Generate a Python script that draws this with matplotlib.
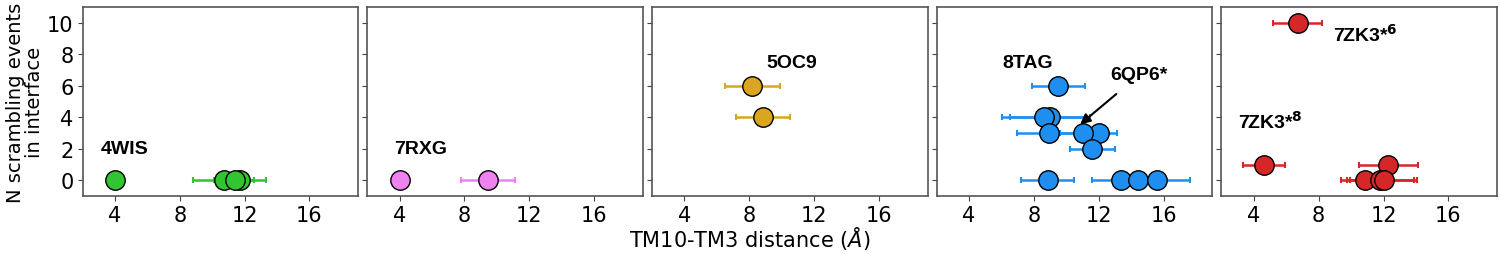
import numpy as np
import matplotlib
matplotlib.use("Agg")
import matplotlib.pyplot as plt

# TM10-TM3 distance (x), scrambling events (y), x error, one set per structure
x_4wis = [4.0, 10.7, 11.7, 11.4]
y_4wis = [0, 0, 0, 0]
e_4wis = [0.0, 1.9, 1.6, 1.2]

x_7rxg = [4.0, 9.45]
y_7rxg = [0, 0]
e_7rxg = [0.0, 1.65]

x_5oc9 = [8.2, 8.85]
y_5oc9 = [6, 4]
e_5oc9 = [1.7, 1.65]

x_8tag = [9.5, 9.0, 8.6, 8.9, 12.0, 11.0, 11.6, 8.85, 13.4, 14.4, 15.6]
y_8tag = [6, 4, 4, 3, 3, 3, 2, 0, 0, 0, 0]
e_8tag = [1.65, 2.45, 2.6, 1.95, 1.1, 1.4, 1.4, 1.65, 1.8, 1.5, 2.05]

x_7zk3 = [6.7, 4.65, 12.3, 10.85, 11.8, 12.0]
y_7zk3 = [10, 1, 1, 0, 0, 0]
e_7zk3 = [1.5, 1.3, 1.8, 1.5, 2.05, 2.05]

panels = [
    (x_4wis, y_4wis, e_4wis, "#33c433"),
    (x_7rxg, y_7rxg, e_7rxg, "#ee82ee"),
    (x_5oc9, y_5oc9, e_5oc9, "#daa520"),
    (x_8tag, y_8tag, e_8tag, "#1e8ff0"),
    (x_7zk3, y_7zk3, e_7zk3, "#d62728"),
]

fig, axes = plt.subplots(1, 5, sharey=True, figsize=(15, 2.55), dpi=100)
fig.subplots_adjust(left=0.055, right=0.998, top=0.969, bottom=0.227, wspace=0.033)

for ax, (xs, ys, es, col) in zip(axes, panels):
    ax.errorbar(xs, ys, xerr=es, fmt='none', ecolor=col, elinewidth=1.8,
                capsize=2.5, capthick=1.5, zorder=2)
    for x, y in zip(xs, ys):
        ax.plot(x, y, 'o', ms=14, mfc=col, mec='black', mew=1.0, zorder=3)
    ax.set_xlim(2, 19)
    ax.set_ylim(-1, 11)
    ax.set_xticks([4, 8, 12, 16])
    ax.set_yticks([0, 2, 4, 6, 8, 10])
    ax.tick_params(labelsize=15, colors='#444444', labelcolor='black', pad=3)
    for s in ax.spines.values():
        s.set_color('#555555')
        s.set_linewidth(1.2)

bold = dict(fontsize=14, fontweight='bold', family='Liberation Sans')
axes[0].text(3.1, 2.0, "4WIS", va='center', ha='left', **bold)
axes[1].text(3.65, 2.0, "7RXG", va='center', ha='left', **bold)
axes[2].text(10.6, 7.5, "5OC9", va='center', ha='center', **bold)
axes[3].text(7.6, 7.5, "8TAG", va='center', ha='center', **bold)
axes[3].annotate("6QP6*", xy=(10.85, 3.55), xytext=(14.5, 6.7),
                 va='center', ha='center',
                 arrowprops=dict(arrowstyle='-|>', color='black', lw=1.5,
                                 shrinkA=9, shrinkB=0, mutation_scale=15),
                 **bold)
axes[4].text(8.9, 9.3, r"7ZK3*$^\mathbf{6}$", va='center', ha='left', **bold)
axes[4].text(3.0, 3.8, r"7ZK3*$^\mathbf{8}$", va='center', ha='left', **bold)

axes[0].set_ylabel("N scrambling events\nin interface", fontsize=14, labelpad=2,
                   linespacing=1.0)
fig.text(0.5, 0.01, r"TM10-TM3 distance ($\mathit{Å}$)", ha='center',
         va='bottom', fontsize=15)

fig.savefig("out.png", dpi=100)
